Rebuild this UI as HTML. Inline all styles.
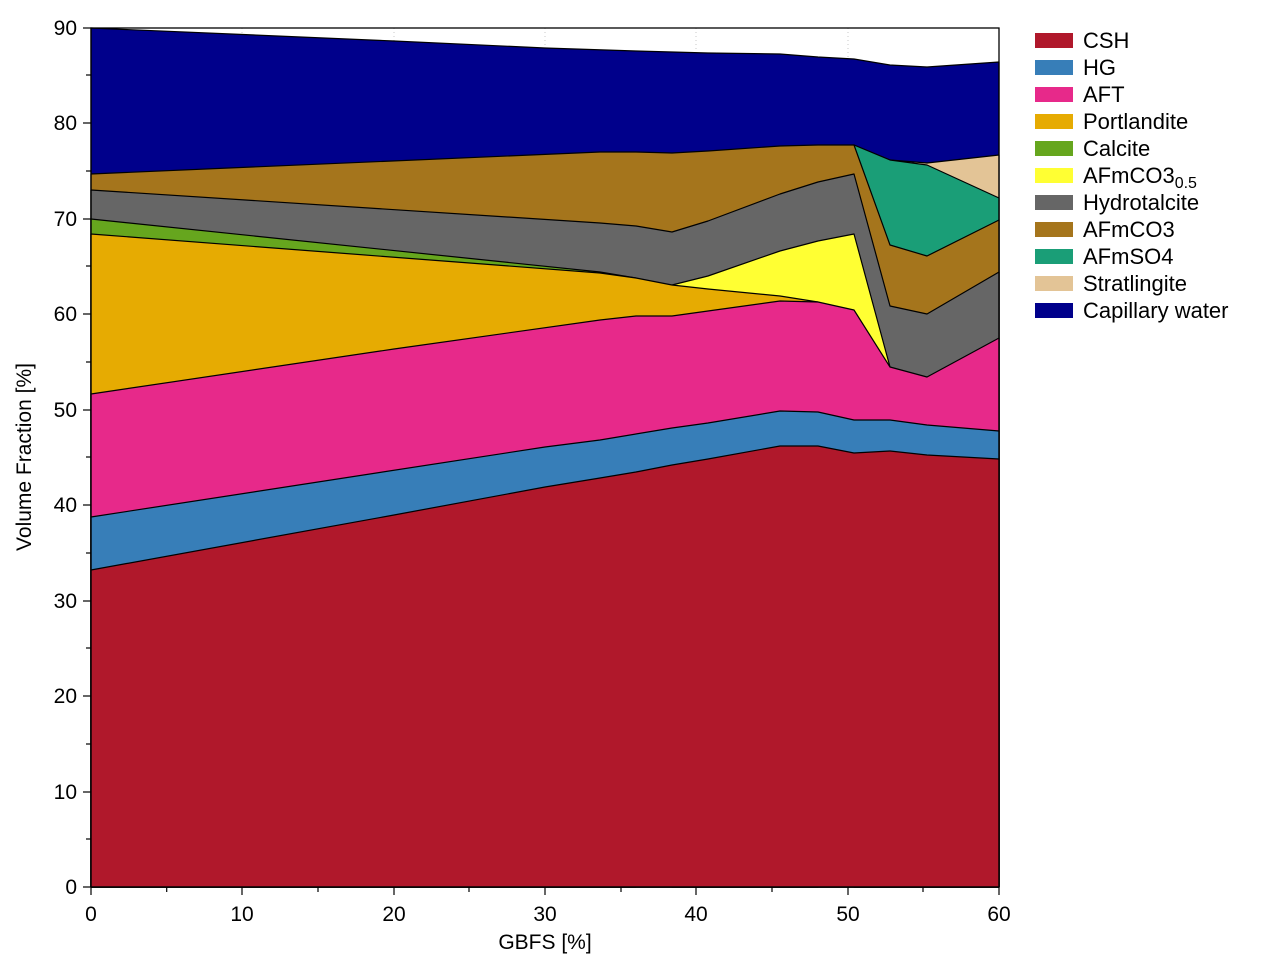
<!DOCTYPE html>
<html><head><meta charset="utf-8"><style>body{margin:0;background:#fff}svg{display:block}text{font-family:"Liberation Sans",sans-serif;fill:#000}</style></head><body>
<svg width="1280" height="960" xmlns="http://www.w3.org/2000/svg">
<g stroke="#c8c8c8" stroke-dasharray="1,3" stroke-width="1">
<line x1="242" y1="28" x2="242" y2="887"/><line x1="394" y1="28" x2="394" y2="887"/><line x1="545" y1="28" x2="545" y2="887"/><line x1="696" y1="28" x2="696" y2="887"/><line x1="848" y1="28" x2="848" y2="887"/>
</g>
<g stroke="#000" stroke-width="1.2" stroke-linejoin="round">
<polygon fill="#00008b" points="91,28 394,41 545,48 636,51 708,53 780,54 818,57 854,59 890,65 927,67 999,62 999,887 91,887"/>
<polygon fill="#e3c496" points="854,145 890,160 927,163 999,155 999,887 854,887"/>
<polygon fill="#1a9e77" points="854,145 890,160 927,165 999,198 999,887 854,887"/>
<polygon fill="#a5751c" points="91,174 600,152 636,152 672,153 708,151 780,146 818,145 854,145 890,245 927,256 999,220 999,887 91,887"/>
<polygon fill="#666666" points="91,190 600,223 636,226 672,232 708,221 780,194 818,182 854,174 890,306 927,314 999,272 999,887 91,887"/>
<polygon fill="#ffff33" points="672,285 708,276 780,251 818,241 854,234 890,367 890,887 672,887"/>
<polygon fill="#66a61e" points="91,219 600,272 636,278 636,887 91,887"/>
<polygon fill="#e6ab02" points="91,234 600,273 636,278 672,285 708,289 780,296 818,302 818,887 91,887"/>
<polygon fill="#e7298a" points="91,394 394,349 600,320 636,316 672,316 708,311 780,301 818,302 854,310 890,367 927,377 999,338 999,887 91,887"/>
<polygon fill="#377eb8" points="91,517 545,447 600,440 672,428 708,423 780,411 818,412 854,420 890,420 927,425 999,431 999,887 91,887"/>
<polygon fill="#b0182b" points="91,570 394,515 545,487 600,478 636,472 672,465 708,459 780,446 818,446 854,453 890,451 927,455 999,459 999,887 91,887"/>
</g>
<rect x="91" y="28" width="908" height="859" fill="none" stroke="#000" stroke-width="1.3"/>
<g stroke="#000" stroke-width="1.2">
<line x1="91" y1="887" x2="91" y2="895"/><line x1="166.7" y1="887" x2="166.7" y2="892"/><line x1="242" y1="887" x2="242" y2="895"/><line x1="318" y1="887" x2="318" y2="892"/><line x1="394" y1="887" x2="394" y2="895"/><line x1="469" y1="887" x2="469" y2="892"/><line x1="545" y1="887" x2="545" y2="895"/><line x1="621" y1="887" x2="621" y2="892"/><line x1="696" y1="887" x2="696" y2="895"/><line x1="772" y1="887" x2="772" y2="892"/><line x1="848" y1="887" x2="848" y2="895"/><line x1="923" y1="887" x2="923" y2="892"/><line x1="999" y1="887" x2="999" y2="895"/>
<line x1="83" y1="887" x2="91" y2="887"/><line x1="86" y1="839" x2="91" y2="839"/><line x1="83" y1="792" x2="91" y2="792"/><line x1="86" y1="744" x2="91" y2="744"/><line x1="83" y1="696" x2="91" y2="696"/><line x1="86" y1="648" x2="91" y2="648"/><line x1="83" y1="601" x2="91" y2="601"/><line x1="86" y1="553" x2="91" y2="553"/><line x1="83" y1="505" x2="91" y2="505"/><line x1="86" y1="457" x2="91" y2="457"/><line x1="83" y1="410" x2="91" y2="410"/><line x1="86" y1="362" x2="91" y2="362"/><line x1="83" y1="314" x2="91" y2="314"/><line x1="86" y1="266" x2="91" y2="266"/><line x1="83" y1="219" x2="91" y2="219"/><line x1="86" y1="171" x2="91" y2="171"/><line x1="83" y1="123" x2="91" y2="123"/><line x1="86" y1="75" x2="91" y2="75"/><line x1="83" y1="28" x2="91" y2="28"/>
</g>
<g font-size="21" text-anchor="end">
<text x="77" y="894">0</text><text x="77" y="799">10</text><text x="77" y="703">20</text><text x="77" y="608">30</text><text x="77" y="512">40</text><text x="77" y="417">50</text><text x="77" y="321">60</text><text x="77" y="226">70</text><text x="77" y="130">80</text><text x="77" y="35">90</text>
</g>
<g font-size="21" text-anchor="middle">
<text x="91" y="921">0</text><text x="242" y="921">10</text><text x="394" y="921">20</text><text x="545" y="921">30</text><text x="696" y="921">40</text><text x="848" y="921">50</text><text x="999" y="921">60</text>
<text x="545" y="949">GBFS [%]</text>
<text transform="translate(31,457) rotate(-90)">Volume Fraction [%]</text>
</g>
<g font-size="22">
<rect x="1035" y="33" width="38" height="15" fill="#b0182b"/><text x="1083" y="48">CSH</text>
<rect x="1035" y="60" width="38" height="15" fill="#377eb8"/><text x="1083" y="75">HG</text>
<rect x="1035" y="87" width="38" height="15" fill="#e7298a"/><text x="1083" y="102">AFT</text>
<rect x="1035" y="114" width="38" height="15" fill="#e6ab02"/><text x="1083" y="129">Portlandite</text>
<rect x="1035" y="141" width="38" height="15" fill="#66a61e"/><text x="1083" y="156">Calcite</text>
<rect x="1035" y="168" width="38" height="15" fill="#ffff33"/><text x="1083" y="183">AFmCO3<tspan font-size="16" dy="5">0.5</tspan></text>
<rect x="1035" y="195" width="38" height="15" fill="#666666"/><text x="1083" y="210">Hydrotalcite</text>
<rect x="1035" y="222" width="38" height="15" fill="#a5751c"/><text x="1083" y="237">AFmCO3</text>
<rect x="1035" y="249" width="38" height="15" fill="#1a9e77"/><text x="1083" y="264">AFmSO4</text>
<rect x="1035" y="276" width="38" height="15" fill="#e3c496"/><text x="1083" y="291">Stratlingite</text>
<rect x="1035" y="303" width="38" height="15" fill="#00008b"/><text x="1083" y="318">Capillary water</text>
</g>
</svg>
</body></html>
